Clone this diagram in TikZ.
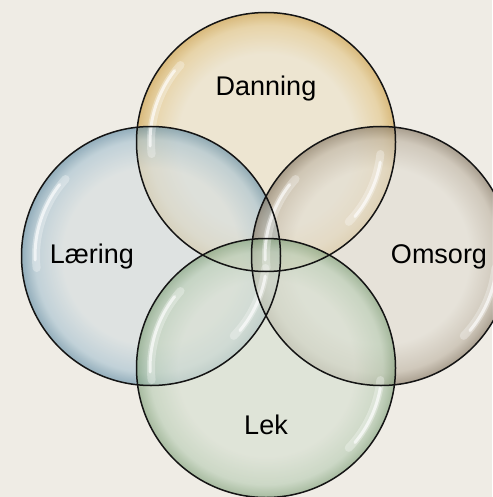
\documentclass[tikz,border=0pt]{standalone}
\usepackage{fontspec}
\setmainfont{Liberation Sans}
\definecolor{bgc}{RGB}{239,236,229}
\pgfdeclareradialshading{bubT}{\pgfpoint{0bp}{0bp}}{color(0bp)=(rgb,255:red,236;green,226;blue,200); color(17bp)=(rgb,255:red,236;green,226;blue,200); color(22.5bp)=(rgb,255:red,228;green,200;blue,138); color(25bp)=(rgb,255:red,206;green,160;blue,70); color(50bp)=(rgb,255:red,206;green,160;blue,70)}
\pgfdeclareradialshading{bubL}{\pgfpoint{0bp}{0bp}}{color(0bp)=(rgb,255:red,214;green,222;blue,224); color(17bp)=(rgb,255:red,214;green,222;blue,224); color(22.5bp)=(rgb,255:red,170;green,196;blue,210); color(25bp)=(rgb,255:red,100;green,142;blue,166); color(50bp)=(rgb,255:red,100;green,142;blue,166)}
\pgfdeclareradialshading{bubR}{\pgfpoint{0bp}{0bp}}{color(0bp)=(rgb,255:red,226;green,222;blue,212); color(17bp)=(rgb,255:red,226;green,222;blue,212); color(22.5bp)=(rgb,255:red,192;green,182;blue,166); color(25bp)=(rgb,255:red,134;green,120;blue,100); color(50bp)=(rgb,255:red,134;green,120;blue,100)}
\pgfdeclareradialshading{bubB}{\pgfpoint{0bp}{0bp}}{color(0bp)=(rgb,255:red,216;green,224;blue,210); color(17bp)=(rgb,255:red,216;green,224;blue,210); color(22.5bp)=(rgb,255:red,186;green,206;blue,182); color(25bp)=(rgb,255:red,130;green,162;blue,124); color(50bp)=(rgb,255:red,130;green,162;blue,124)}
\tikzset{
  bubble/.style={opacity=0.66},
  rimline/.style={draw=black!92, line width=1.5pt},
  glowwide/.style={draw=white, line width=8pt, opacity=0.3, line cap=round},
  glowthin/.style={draw=white, line width=3pt, opacity=0.65, line cap=round},
  lbl/.style={font=\fontsize{27}{32}\selectfont, text=black, inner sep=0pt}
}
\begin{document}
\begin{tikzpicture}[x=1pt,y=-1pt]
\fill[bgc] (0,0) rectangle (492,497);
\useasboundingbox (0,0) rectangle (492,497);
\coordinate (cT) at (266,142);
\coordinate (cL) at (151,256);
\coordinate (cR) at (381,256);
\coordinate (cB) at (266,368);
\def\rr{129.5pt}
% fills
\shade[bubble, shading=bubT] (cT) circle[radius=\rr];
\shade[bubble, shading=bubL] (cL) circle[radius=\rr];
\shade[bubble, shading=bubR] (cR) circle[radius=\rr];
\shade[bubble, shading=bubB] (cB) circle[radius=\rr];
% highlights
\foreach \c in {cT,cL,cR,cB}{
  \draw[glowwide] ([shift={(138:115pt)}]\c) arc[start angle=138, end angle=186, radius=115pt];
  \draw[glowthin] ([shift={(142:116pt)}]\c) arc[start angle=142, end angle=182, radius=116pt];
  \draw[glowwide] ([shift={(-44:115pt)}]\c) arc[start angle=-44, end angle=-6, radius=115pt];
  \draw[glowthin] ([shift={(-40:116pt)}]\c) arc[start angle=-40, end angle=-10, radius=116pt];
}
% outlines
\foreach \c in {cT,cL,cR,cB}{
  \draw[rimline] (\c) circle[radius=\rr];
}
% labels
\node[lbl] (danning) at (266,89) {Danning};
\node[lbl] (laering) at (92,257) {Læring};
\node[lbl] (omsorg) at (439,257) {Omsorg};
\node[lbl] (lek) at (266,425) {Lek};
\end{tikzpicture}
\end{document}
